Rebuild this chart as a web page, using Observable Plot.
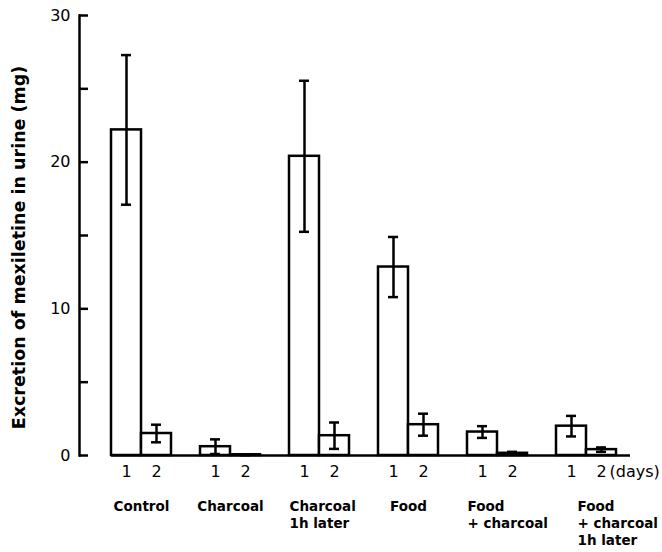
<!DOCTYPE html>
<html><head><meta charset="utf-8">
<script src="https://cdn.jsdelivr.net/npm/d3@7"></script>
<script src="https://cdn.jsdelivr.net/npm/@observablehq/plot@0.6"></script>
<style>body{margin:0;background:#fff}</style>
</head><body><div id="chart"></div>
<script>
const groups = ["Control", "Charcoal", "Charcoal 1h later", "Food", "Food + charcoal", "Food + charcoal 1h later"];
const groupLabels = ["Control", "Charcoal", "Charcoal\n1h later", "Food", "Food\n+ charcoal", "Food\n+ charcoal\n1h later"];
const days = ["1", "2"];
const day1 = [22.2, 0.6, 20.4, 12.85, 1.6, 2.0];
const day1Err = [5.1, 0.5, 5.15, 2.05, 0.4, 0.7];
const day2 = [1.5, 0.05, 1.35, 2.1, 0.15, 0.4];
const day2Err = [0.6, 0.03, 0.9, 0.75, 0.1, 0.15];
const yTicks = [0, 5, 10, 15, 20, 25, 30];
const yLabels = [0, 10, 20, 30];
const yTitle = "Excretion of mexiletine in urine (mg)";
const daysNote = "(days)";

const rows = [];
groups.forEach((g, i) => {
  rows.push({group: g, day: days[0], value: day1[i], err: day1Err[i]});
  rows.push({group: g, day: days[1], value: day2[i], err: day2Err[i]});
});
const labelRows = groups.map((g, i) => ({group: g, label: groupLabels[i]}));
const lastGroup = groups[groups.length - 1];
const single = labelRows.filter(d => !d.label.includes("\n"));
const multi = labelRows.filter(d => d.label.includes("\n") && d.group !== lastGroup);
const lastLabel = labelRows.filter(d => d.group === lastGroup);

const sw = 2.5;
const chart = Plot.plot({
  width: 662,
  height: 552,
  marginTop: 15,
  marginBottom: 97,
  marginLeft: 110,
  marginRight: 46,
  style: {fontFamily: "DejaVu Sans", background: "white", color: "black"},
  fx: {domain: groups, paddingInner: 0.328, paddingOuter: 0, axis: null},
  x: {domain: days, padding: 0},
  y: {domain: [0, 30]},
  marks: [
    Plot.frame({anchor: "left", facetAnchor: "left", dx: -32, strokeWidth: sw}),
    Plot.axisY({ticks: yTicks, tickSize: -9, tickFormat: () => "", dx: -32, strokeWidth: sw, label: null}),
    Plot.axisY({ticks: yLabels, tickSize: 0, tickPadding: 9, dx: -32, fontSize: 16, label: null}),
    Plot.text([yTitle], {frameAnchor: "left", facetAnchor: "left", textAnchor: "middle", rotate: -90, dx: -92, dy: 12, fontSize: 17.5, fontWeight: "bold", text: d => d}),
    Plot.barY(rows, {fx: "group", x: "day", y: "value", fill: "white", stroke: "black", strokeWidth: sw}),
    Plot.ruleX(rows, {fx: "group", x: "day", y1: d => d.value - d.err, y2: d => d.value + d.err, strokeWidth: sw}),
    Plot.tickY(rows, {fx: "group", x: "day", y: d => d.value + d.err, insetLeft: 10, insetRight: 10, strokeWidth: sw}),
    Plot.tickY(rows, {fx: "group", x: "day", y: d => d.value - d.err, insetLeft: 10, insetRight: 10, strokeWidth: sw}),
    Plot.ruleY(groups.slice(0, -1), {fx: d => d, y: () => 0, insetRight: -29, strokeWidth: sw}),
    Plot.ruleY([lastGroup], {fx: d => d, y: () => 0, insetRight: -14, strokeWidth: sw}),
    Plot.axisX({tickSize: 0, tickPadding: 10, fontSize: 16, label: null}),
    Plot.text([lastGroup], {fx: d => d, x: () => days[1], y: () => 0, text: () => daysNote, textAnchor: "start", lineAnchor: "top", dx: 8, dy: 10, fontSize: 16}),
    Plot.text(single, {fx: "group", text: "label", frameAnchor: "bottom", textAnchor: "middle", lineAnchor: "top", dy: 44, fontSize: 13.5, fontWeight: "bold", lineHeight: 1.25}),
    Plot.text(multi, {fx: "group", text: "label", frameAnchor: "bottom-left", textAnchor: "start", lineAnchor: "top", dy: 44, fontSize: 13.5, fontWeight: "bold", lineHeight: 1.25}),
    Plot.text(lastLabel, {fx: "group", text: "label", frameAnchor: "bottom-left", textAnchor: "start", lineAnchor: "top", dx: 21, dy: 44, fontSize: 13.5, fontWeight: "bold", lineHeight: 1.25})
  ]
});
document.getElementById("chart").appendChild(chart);
</script>
</body></html>
